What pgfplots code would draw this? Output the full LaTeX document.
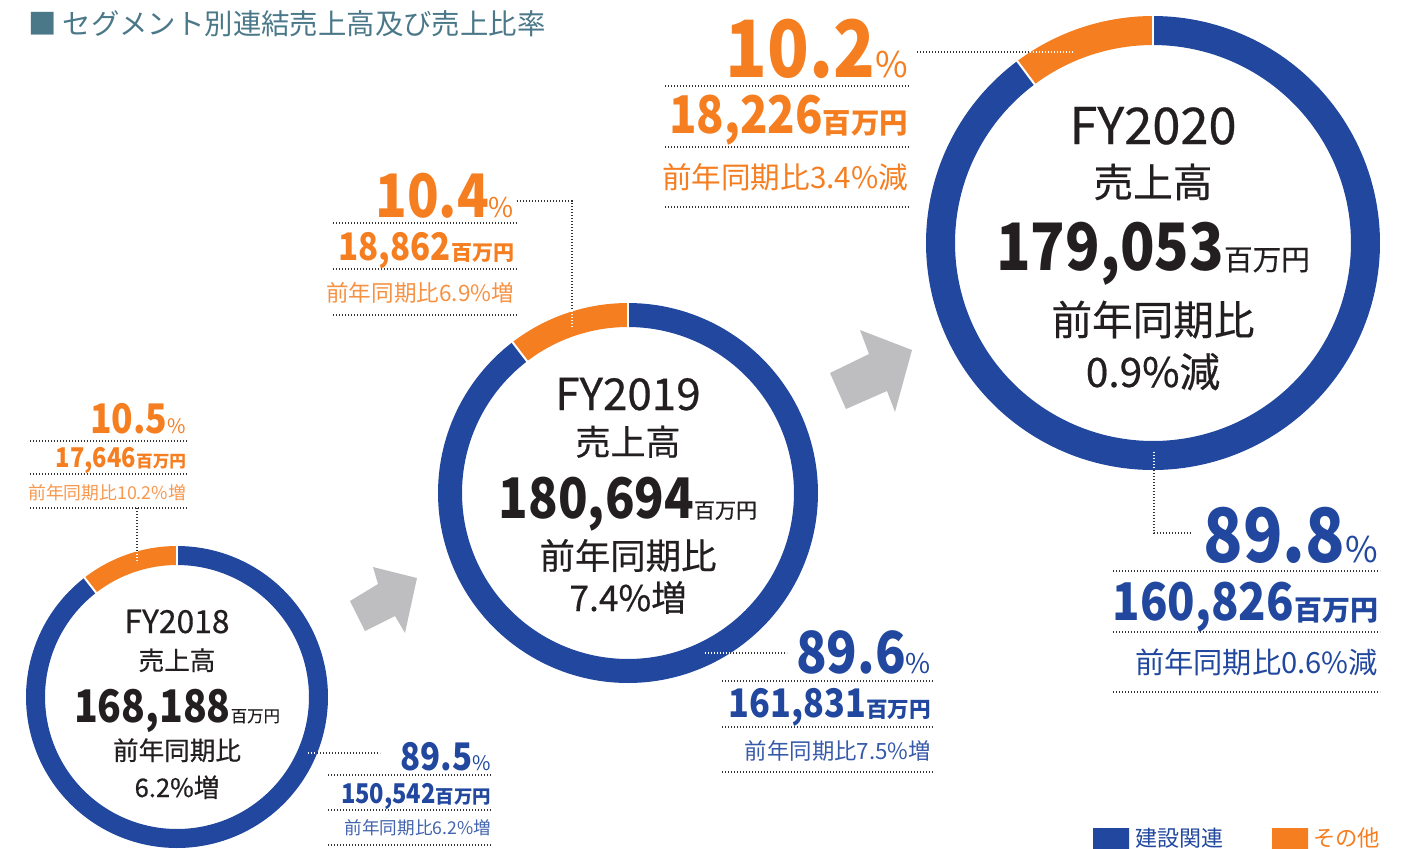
\documentclass[border=0pt]{standalone}
\usepackage{fontspec}
\setmainfont{Noto Sans CJK JP}
\newfontfamily\numf{Noto Sans CJK JP}[FakeStretch=0.87]
\newfontfamily\medf{Noto Sans CJK JP}[FakeBold=0.5]
\usepackage{pgfplots}
\pgfplotsset{compat=1.18}
\newcommand{\fs}[1]{\fontsize{#1}{#1}\selectfont}
\newcommand{\bn}{\numf\bfseries}
\definecolor{cblue}{RGB}{33,71,158}
\definecolor{corange}{RGB}{245,126,33}
\definecolor{ctext}{RGB}{35,31,32}
\definecolor{ctitle}{RGB}{74,120,136}
\definecolor{carrow}{RGB}{190,190,192}
\tikzset{dotl/.style={line width=0.7pt, dash pattern=on 0.7pt off 0.8pt, color=black!80},
  wdot/.style={line width=0.7pt, dash pattern=on 0.7pt off 0.8pt, color=white},
  lab/.style={inner sep=0pt, outer sep=0pt}}
\begin{document}
\begin{tikzpicture}
\begin{axis}[width=705pt,height=424pt,scale only axis,
  xmin=0,xmax=1410,ymin=0,ymax=848,y dir=reverse,hide axis,clip=false]

% ---------- donuts (share: construction / other) ----------
% FY2018: 89.5 / 10.5
\addplot[cblue, line width=9.5pt, domain=0:322.2, samples=160, variable=\t] ({177+141.5*sin(\t)},{697-141.5*cos(\t)});
\addplot[corange, line width=9.5pt, domain=322.2:360, samples=30, variable=\t] ({177+141.5*sin(\t)},{697-141.5*cos(\t)});
\addplot[white, line width=1pt, domain=130:153, samples=2, variable=\r] ({177+\r*sin(0)},{697-\r*cos(0)});
\addplot[white, line width=1pt, domain=130:153, samples=2, variable=\r] ({177+\r*sin(322.2)},{697-\r*cos(322.2)});
% FY2019: 89.6 / 10.4
\addplot[cblue, line width=12pt, domain=0:322.56, samples=180, variable=\t] ({628+178*sin(\t)},{493-178*cos(\t)});
\addplot[corange, line width=12pt, domain=322.56:360, samples=30, variable=\t] ({628+178*sin(\t)},{493-178*cos(\t)});
\addplot[white, line width=1pt, domain=164:192, samples=2, variable=\r] ({628+\r*sin(0)},{493-\r*cos(0)});
\addplot[white, line width=1pt, domain=164:192, samples=2, variable=\r] ({628+\r*sin(322.56)},{493-\r*cos(322.56)});
% FY2020: 89.8 / 10.2
\addplot[cblue, line width=14.5pt, domain=0:323.28, samples=200, variable=\t] ({1153+212.5*sin(\t)},{243-212.5*cos(\t)});
\addplot[corange, line width=14.5pt, domain=323.28:360, samples=30, variable=\t] ({1153+212.5*sin(\t)},{243-212.5*cos(\t)});
\addplot[white, line width=1pt, domain=196:229, samples=2, variable=\r] ({1153+\r*sin(0)},{243-\r*cos(0)});
\addplot[white, line width=1pt, domain=196:229, samples=2, variable=\r] ({1153+\r*sin(323.28)},{243-\r*cos(323.28)});

% ---------- arrows ----------
\addplot[fill=carrow, draw=none] coordinates {(350,601) (378,584) (373,567) (417,578) (405,633) (395,616) (365,631) (350,601)};
\addplot[fill=carrow, draw=none] coordinates {(830,373) (869,354) (860,330) (912,350) (895,412) (887,391) (846,409) (830,373)};

% ---------- dotted rules ----------
\addplot[dotl] coordinates {(30,441) (187,441)};
\addplot[dotl] coordinates {(30,474) (187,474)};
\addplot[dotl] coordinates {(30,508) (187,508)};
\addplot[dotl] coordinates {(328,775) (492,775)};
\addplot[dotl] coordinates {(328,810) (492,810)};
\addplot[dotl] coordinates {(328,845) (492,845)};
\addplot[dotl] coordinates {(333,223) (517,223)};
\addplot[dotl] coordinates {(333,269) (517,269)};
\addplot[dotl] coordinates {(333,315) (517,315)};
\addplot[dotl] coordinates {(722,681) (933,681)};
\addplot[dotl] coordinates {(722,727) (933,727)};
\addplot[dotl] coordinates {(722,772) (933,772)};
\addplot[dotl] coordinates {(665,86) (910,86)};
\addplot[dotl] coordinates {(665,147) (910,147)};
\addplot[dotl] coordinates {(665,207) (910,207)};
\addplot[dotl] coordinates {(1113,571) (1380,571)};
\addplot[dotl] coordinates {(1113,632) (1380,632)};
\addplot[dotl] coordinates {(1113,692) (1380,692)};
% leaders
\addplot[dotl] coordinates {(137,508) (137,551)};
\addplot[wdot] coordinates {(137,551) (137,563)};
\addplot[wdot] coordinates {(308,753) (317,753)};
\addplot[dotl] coordinates {(317,753) (380,753)};
\addplot[dotl] coordinates {(517,201) (572,201) (572,311)};
\addplot[wdot] coordinates {(572,311) (572,328)};
\addplot[wdot] coordinates {(705,653) (730,653)};
\addplot[dotl] coordinates {(730,653) (787,653)};
\addplot[dotl] coordinates {(917,52) (1030,52)};
\addplot[wdot] coordinates {(1030,52) (1073,52)};
\addplot[wdot] coordinates {(1154,452) (1154,470)};
\addplot[dotl] coordinates {(1154,470) (1154,533) (1192,533)};

% ---------- legend squares ----------
\addplot[fill=cblue, draw=none] coordinates {(1093,828) (1129,828) (1129,852) (1093,852) (1093,828)};
\addplot[fill=corange, draw=none] coordinates {(1272,828) (1308,828) (1308,852) (1272,852) (1272,828)};

% ---------- title & legend text ----------
\node[lab, anchor=base west, text=ctitle, font=\fs{14.2pt}] at (axis cs:28,34) {■ セグメント別連結売上高及び売上比率};
\node[lab, anchor=base west, text=cblue, font=\fs{11pt}] at (axis cs:1135,846) {建設関連};
\node[lab, anchor=base west, text=corange, font=\fs{11.2pt}] at (axis cs:1313,846) {その他};

% ---------- centre texts ----------
\node[lab, anchor=base, text=ctext, font=\medf\fs{15.9pt}] at (axis cs:177,633) {FY2018};
\node[lab, anchor=base, text=ctext, font=\medf\fs{12.8pt}] at (axis cs:177,670) {売上高};
\node[lab, anchor=base, text=ctext] at (axis cs:177,722) {{\fs{22.5pt}\bn 168,188}{\medf\fs{8.2pt}百万円}};
\node[lab, anchor=base, text=ctext, font=\medf\fs{12.8pt}] at (axis cs:177,760) {前年同期比};
\node[lab, anchor=base, text=ctext, font=\medf\fs{12.8pt}] at (axis cs:177,797) {6.2\%増};

\node[lab, anchor=base, text=ctext, font=\medf\fs{22pt}] at (axis cs:628,410) {FY2019};
\node[lab, anchor=base, text=ctext, font=\medf\fs{17.5pt}] at (axis cs:628,455) {売上高};
\node[lab, anchor=base, text=ctext] at (axis cs:628,518) {{\fs{28pt}\bn 180,694}{\medf\fs{10.5pt}百万円}};
\node[lab, anchor=base, text=ctext, font=\medf\fs{17.7pt}] at (axis cs:628,569) {前年同期比};
\node[lab, anchor=base, text=ctext, font=\medf\fs{17.7pt}] at (axis cs:628,611) {7.4\%増};

\node[lab, anchor=base, text=ctext, font=\medf\fs{25.3pt}] at (axis cs:1153,144) {FY2020};
\node[lab, anchor=base, text=ctext, font=\medf\fs{19.8pt}] at (axis cs:1153,197) {売上高};
\node[lab, anchor=base, text=ctext] at (axis cs:1153,270) {{\fs{32.7pt}\bn 179,053}{\medf\fs{14.3pt}百万円}};
\node[lab, anchor=base, text=ctext, font=\medf\fs{20.3pt}] at (axis cs:1153,335) {前年同期比};
\node[lab, anchor=base, text=ctext, font=\medf\fs{20.3pt}] at (axis cs:1153,387) {0.9\%減};

% ---------- side labels ----------
% FY2018 other
\node[lab, anchor=base east, text=corange] at (axis cs:186,433) {{\fs{20.4pt}\bn 10.5}{\fs{10pt}\%}};
\node[lab, anchor=base east, text=corange] at (axis cs:186,467) {{\fs{13.6pt}\bn 17,646}{\fs{8.3pt}\bfseries 百万円}};
\node[lab, anchor=base east, text=corange!80!white, font=\fs{8.9pt}] at (axis cs:186,499) {前年同期比10.2\%増};
% FY2018 construction
\node[lab, anchor=base east, text=cblue] at (axis cs:491,770) {{\fs{19pt}\bn 89.5}{\fs{10pt}\%}};
\node[lab, anchor=base east, text=cblue] at (axis cs:491,803) {{\fs{13.6pt}\bn 150,542}{\fs{9.2pt}\bfseries 百万円}};
\node[lab, anchor=base east, text=cblue!85!white, font=\fs{8.8pt}] at (axis cs:491,834) {前年同期比6.2\%増};
% FY2019 other
\node[lab, anchor=base east, text=corange] at (axis cs:514,217) {{\fs{30pt}\bn 10.4}{\fs{13.6pt}\%}};
\node[lab, anchor=base east, text=corange] at (axis cs:514,260) {{\fs{19pt}\bn 18,862}{\fs{10.5pt}\bfseries 百万円}};
\node[lab, anchor=base east, text=corange!85!white, font=\fs{11.3pt}] at (axis cs:514,301) {前年同期比6.9\%増};
% FY2019 construction
\node[lab, anchor=base east, text=cblue] at (axis cs:931,673) {{\fs{29pt}\bn 89.6}{\fs{13.6pt}\%}};
\node[lab, anchor=base east, text=cblue] at (axis cs:931,717) {{\fs{19.7pt}\bn 161,831}{\fs{10.8pt}\bfseries 百万円}};
\node[lab, anchor=base east, text=cblue!90!white, font=\fs{11.2pt}] at (axis cs:931,759) {前年同期比7.5\%増};
% FY2020 other
\node[lab, anchor=base east, text=corange] at (axis cs:908,77) {{\fs{39.5pt}\bn 10.2}{\fs{17.7pt}\%}};
\node[lab, anchor=base east, text=corange] at (axis cs:908,133) {{\fs{26pt}\bn 18,226}{\fs{14.2pt}\bfseries 百万円}};
\node[lab, anchor=base east, text=corange, font=\fs{14.8pt}] at (axis cs:908,188) {前年同期比3.4\%減};
% FY2020 construction
\node[lab, anchor=base east, text=cblue] at (axis cs:1378,562) {{\fs{37.4pt}\bn 89.8}{\fs{17.7pt}\%}};
\node[lab, anchor=base east, text=cblue] at (axis cs:1378,620) {{\fs{26pt}\bn 160,826}{\fs{14pt}\bfseries 百万円}};
\node[lab, anchor=base east, text=cblue, font=\fs{14.6pt}] at (axis cs:1378,673) {前年同期比0.6\%減};
\end{axis}
\pgfresetboundingbox
\path[use as bounding box] (0,0) rectangle (705pt,424pt);
\end{tikzpicture}
\end{document}
